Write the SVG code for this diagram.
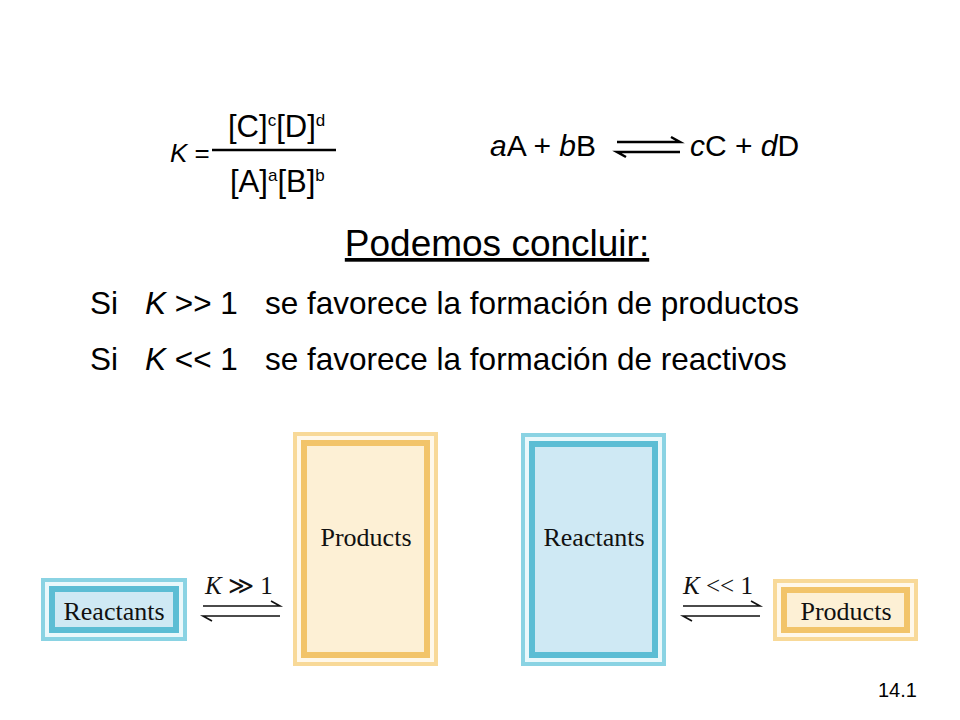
<svg xmlns="http://www.w3.org/2000/svg" width="960" height="720" viewBox="0 0 960 720">
<style>
.a{font-family:"Liberation Sans",Arial,sans-serif;fill:#000}
.t{font-family:"Liberation Serif","Times New Roman",serif;fill:#111}
.ln{stroke:#000;stroke-width:2.5;fill:none}
.tl{stroke:#111;stroke-width:1.6;fill:none}
.b1{fill:#8ad3e3}.b2{fill:#eaf8fb}.b3{fill:#5cbdd4}.b4{fill:#cfe9f4}
.o1{fill:#f8d998}.o2{fill:#fff8ea}.o3{fill:#f2c46a}.o4{fill:#fdf0d5}
</style>
<rect width="960" height="720" fill="#fff"/>
<g id="formula">
<text class="a" x="170" y="162" font-size="26"><tspan font-style="italic">K</tspan> =</text>
<text class="a" x="228" y="137" font-size="31">[C]<tspan font-size="17" dy="-11">c</tspan><tspan dy="11">[D]</tspan><tspan font-size="17" dy="-11">d</tspan></text>
<line class="ln" x1="212" y1="150" x2="336" y2="150"/>
<text class="a" x="230" y="192" font-size="31">[A]<tspan font-size="17" dy="-11">a</tspan><tspan dy="11">[B]</tspan><tspan font-size="17" dy="-11">b</tspan></text>
</g>
<g id="reaction">
<text class="a" x="490" y="156" font-size="30"><tspan font-style="italic">a</tspan>A + <tspan font-style="italic">b</tspan>B</text>
<text class="a" x="690" y="156" font-size="30"><tspan font-style="italic">c</tspan>C + <tspan font-style="italic">d</tspan>D</text>
</g>
<g id="conclusion">
<text class="a" x="497" y="256" font-size="37" text-anchor="middle" text-decoration="underline">Podemos concluir:</text>
<text class="a" x="90" y="314" font-size="31.5">Si</text>
<text class="a" x="145" y="314" font-size="31.5"><tspan font-style="italic">K</tspan> &gt;&gt; 1</text>
<text class="a" x="265" y="314" font-size="31.5">se favorece la formación de productos</text>
<text class="a" x="90" y="370" font-size="31.5">Si</text>
<text class="a" x="145" y="370" font-size="31.5"><tspan font-style="italic">K</tspan> &lt;&lt; 1</text>
<text class="a" x="265" y="370" font-size="31.5">se favorece la formación de reactivos</text>
</g>
<g id="reactants-small">
<rect class="b1" x="41" y="578" width="146" height="63"/><rect class="b2" x="45" y="582" width="138" height="55"/><rect class="b3" x="49" y="586" width="130" height="47"/><rect class="b4" x="55" y="592" width="118" height="35"/>
<text class="t" x="114" y="620" font-size="26" text-anchor="middle">Reactants</text>
</g>
<g id="products-big">
<rect class="o1" x="293" y="432" width="145" height="234"/><rect class="o2" x="297" y="436" width="137" height="226"/><rect class="o3" x="301" y="440" width="129" height="218"/><rect class="o4" x="307" y="446" width="117" height="206"/>
<text class="t" x="366" y="546" font-size="26" text-anchor="middle">Products</text>
</g>
<g id="reactants-big">
<rect class="b1" x="521" y="433" width="145" height="233"/><rect class="b2" x="525" y="437" width="137" height="225"/><rect class="b3" x="529" y="441" width="129" height="217"/><rect class="b4" x="535" y="447" width="117" height="205"/>
<text class="t" x="594" y="546" font-size="26" text-anchor="middle">Reactants</text>
</g>
<g id="products-small">
<rect class="o1" x="773" y="579" width="145" height="62"/><rect class="o2" x="777" y="583" width="137" height="54"/><rect class="o3" x="781" y="587" width="129" height="46"/><rect class="o4" x="787" y="593" width="117" height="34"/>
<text class="t" x="846" y="620" font-size="26" text-anchor="middle">Products</text>
</g>
<g id="connectors">
<path class="ln" d="M617 142 H680 l-9 -5"/>
<path class="ln" d="M680 152 H617 l9 5"/>
<path class="tl" d="M203 606 H280 l-9 -5"/>
<path class="tl" d="M280 616 H203 l9 5"/>
<path class="tl" d="M683 606 H760 l-9 -5"/>
<path class="tl" d="M760 616 H683 l9 5"/>
</g>
<g id="labels">
<text class="t" x="205" y="594" font-size="25"><tspan font-style="italic">K</tspan> ≫ 1</text>
<text class="t" x="683" y="594" font-size="25"><tspan font-style="italic">K</tspan> &lt;&lt; 1</text>
<text class="a" x="878" y="697" font-size="20">14.1</text>
</g>
</svg>
